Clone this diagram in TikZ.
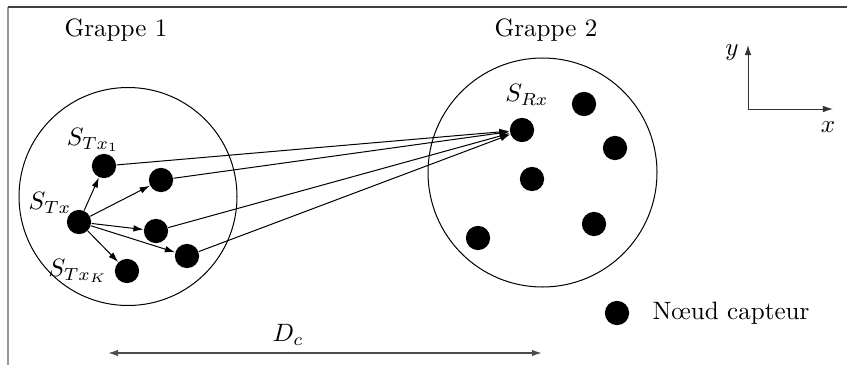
\documentclass[tikz,border=0pt]{standalone}
\usetikzlibrary{arrows.meta}

\begin{document}
\begin{tikzpicture}[
			capteur/.style={circle, fill=black, minimum size=0.34cm, inner sep=0pt},
			grappe/.style={circle, draw, inner sep=0pt},
			lien/.style={-{Latex[length=4pt,width=2.6pt]}},
			cadre/.style={gray!80, line width=0.6pt}
		]
		\useasboundingbox (0, 0) rectangle (11.858, -5.11);

		% Cadre
		\coordinate (coin) at (0.112, -0.098);
		\coordinate (coinh) at (11.858, -0.098);
		\coordinate (coinb) at (0.112, -5.11);
		\draw[cadre] (coin) -- (coinb);
		\draw[cadre, black!75, line width=0.8pt] (coin) -- (coinh);

		% Grappe 1
		\node (titre1) at (1.624, -0.42) {Grappe 1};
		\node[grappe, minimum size=3.052cm] (g1) at (1.792, -2.751) {};
		\node[capteur] (tx1) at (1.456, -2.324) {};
		\node[capteur] (ta) at (2.254, -2.52) {};
		\node[capteur] (tx) at (1.106, -3.108) {};
		\node[capteur] (tb) at (2.184, -3.234) {};
		\node[capteur] (tc) at (2.618, -3.584) {};
		\node[capteur] (txk) at (1.778, -3.794) {};
		\node (ltx1) at (1.302, -1.96) {$S_{Tx_1}$};
		\node (ltx) at (0.70, -2.842) {$S_{Tx}$};
		\node (ltxk) at (1.092, -3.794) {$S_{Tx_K}$};

		% Grappe 2
		\node (titre2) at (7.644, -0.42) {Grappe 2};
		\node[grappe, minimum size=3.206cm] (g2) at (7.595, -2.415) {};
		\node[capteur] (rx) at (7.308, -1.82) {};
		\node[capteur] (r1) at (8.176, -1.456) {};
		\node[capteur] (r2) at (8.61, -2.072) {};
		\node[capteur] (r3) at (7.448, -2.506) {};
		\node[capteur] (r4) at (8.316, -3.136) {};
		\node[capteur] (r5) at (6.692, -3.332) {};
		\node (lrx) at (7.378, -1.33) {$S_{Rx}$};

		% Liens dans la grappe 1
		\foreach \n in {tx1, ta, tb, tc, txk}
			\draw[lien] (tx) -- (\n);

		% Liens vers le recepteur
		\foreach \n in {tx1, ta, tb, tc}
			\draw[lien] (\n) -- (rx);

		% Axes
		\coordinate (o) at (10.472, -1.526);
		\coordinate (ay) at (10.472, -0.63);
		\coordinate (ax) at (11.662, -1.526);
		\draw[black!80, -{Latex[length=4pt,width=2.6pt]}] (o) -- (ay);
		\draw[black!80, -{Latex[length=4pt,width=2.6pt]}] (o) -- (ax);
		\node (ly) at (10.248, -0.742) {$y$};
		\node (lx) at (11.592, -1.778) {$x$};

		% Distance entre grappes
		\coordinate (d1) at (1.512, -4.942);
		\coordinate (d2) at (7.588, -4.942);
		\draw[black!70, line width=0.6pt, {Latex[length=4pt,width=2.6pt]}-{Latex[length=4pt,width=2.6pt]}] (d1) -- (d2);
		\node (ldc) at (4.032, -4.69) {$D_c$};

		% Legende
		\node[capteur] (leg) at (8.638, -4.382) {};
		\node[anchor=west, inner sep=0pt] (legtxt) at (9.128, -4.382) {N\oe ud capteur};

	\end{tikzpicture}
\end{document}
